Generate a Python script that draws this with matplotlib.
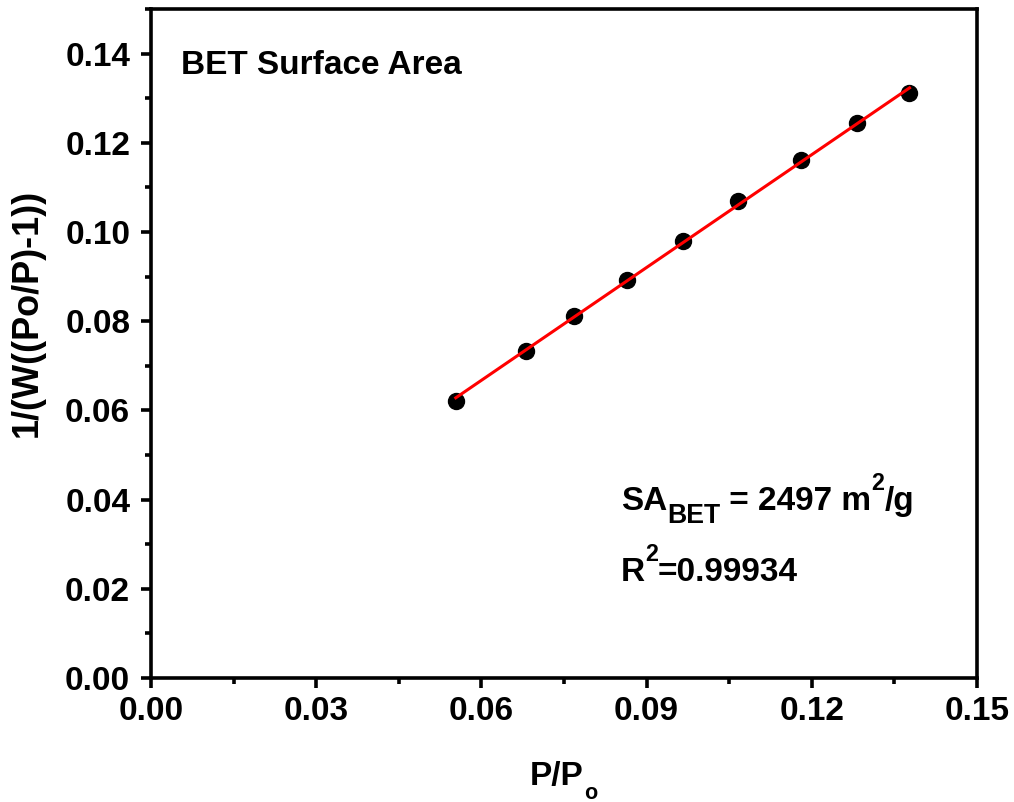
import numpy as np
import matplotlib
matplotlib.use("Agg")
import matplotlib.pyplot as plt
from matplotlib.ticker import MultipleLocator, FormatStrFormatter
from matplotlib.transforms import IdentityTransform

plt.rcParams['font.family'] = 'Liberation Sans'
plt.rcParams['font.weight'] = 'bold'

# dados
p_po = [0.05535, 0.06803, 0.07690, 0.08649, 0.09656, 0.10667, 0.11799, 0.12822, 0.13774]
bet_y = [0.06217, 0.07336, 0.08110, 0.08924, 0.09799, 0.10685, 0.11612, 0.12440, 0.13112]
x_ticks = [0.00, 0.03, 0.06, 0.09, 0.12, 0.15]
y_ticks = [0.00, 0.02, 0.04, 0.06, 0.08, 0.10, 0.12, 0.14]

x = np.array(p_po)
y = np.array(bet_y)
coef = np.polyfit(x, y, 1)
x_fit = np.array([x.min(), x.max()])

W, H = 1014, 802
fig = plt.figure(figsize=(W / 100, H / 100), dpi=100)
ax = fig.add_axes([151 / W, (H - 678) / H, 826 / W, 669 / H])

ax.plot(x, y, 'o', color='black', markersize=11.5, zorder=2)
ax.plot(x_fit, np.polyval(coef, x_fit), color='red', linewidth=2.2, zorder=3)

ax.set_xlim(0, 0.15)
ax.set_ylim(0, 0.15)
ax.set_xticks(x_ticks)
ax.set_yticks(y_ticks)
ax.xaxis.set_minor_locator(MultipleLocator(0.015))
ax.yaxis.set_minor_locator(MultipleLocator(0.01))
ax.xaxis.set_major_formatter(FormatStrFormatter('%.2f'))
ax.yaxis.set_major_formatter(FormatStrFormatter('%.2f'))

for s in ax.spines.values():
    s.set_linewidth(2.6)
ax.tick_params(which='major', direction='out', length=7, width=2.6, labelsize=24, pad=6)
ax.tick_params(axis='y', which='major', pad=8)
ax.tick_params(which='minor', direction='out', length=4, width=2.6)

ax.text(-0.150, 0.546, '1/(W((Po/P)-1))', rotation=90, ha='center', va='center',
        transform=ax.transAxes, fontsize=26, fontweight='bold')

fig.canvas.draw()
renderer = fig.canvas.get_renderer()


# texto com sub/sobrescrito (posições em pixels, y de cima para baixo)
def texto_rico(x0, base, partes, size):
    xp = x0
    for s, esc, dy in partes:
        t = fig.text(xp, H - base + dy, s, transform=IdentityTransform(),
                     fontsize=size * esc, fontweight='bold', va='baseline', ha='left')
        xp += t.get_window_extent(renderer).width


texto_rico(181, 74, [('BET Surface Area', 1, 0)], 24)
texto_rico(621, 510, [('SA', 1, 0), ('BET', 0.8, -13), (' = 2497 m', 1, 0),
                      ('2', 0.7, 20), ('/g', 1, 0)], 24)
texto_rico(621, 581, [('R', 1, 0), ('2', 0.7, 20), ('=0.99934', 1, 0)], 24)
texto_rico(530, 785, [('P/P', 1, 0), ('o', 0.65, -14)], 24)

fig.savefig('out.png', dpi=100)
